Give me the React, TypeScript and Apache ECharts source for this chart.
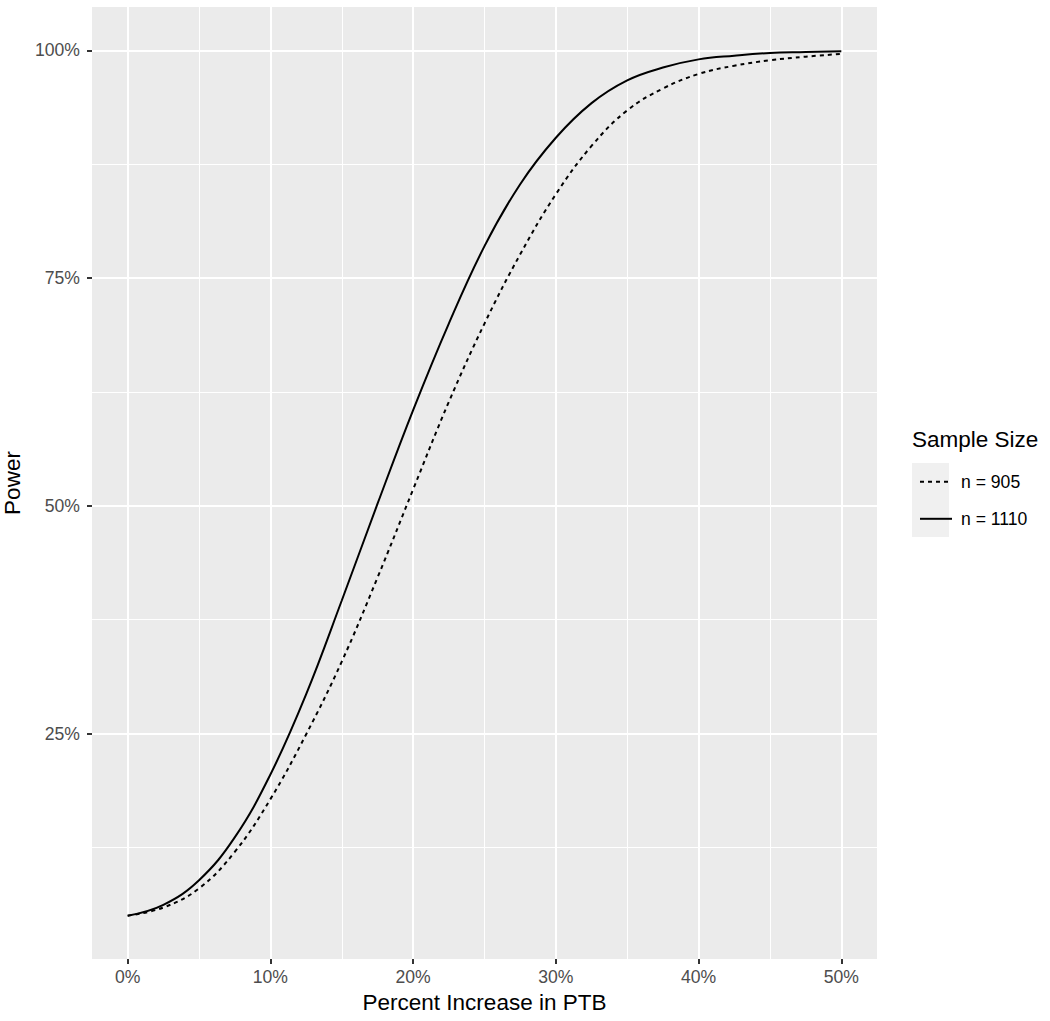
import React, { useEffect, useRef } from "react";
import * as echarts from "echarts";

// Percent increase in PTB (x, in %)
const increase = [0, 2.5, 5, 7.5, 10, 12.5, 15, 17.5, 20, 22.5, 25, 27.5, 30, 32.5, 35, 37.5, 40, 42.5, 45, 47.5, 50];
// Power for n = 905 (dashed)
const power905 = [0.05, 0.059, 0.08, 0.12, 0.178, 0.249, 0.329, 0.421, 0.518, 0.614, 0.7, 0.776, 0.842, 0.895, 0.934, 0.958, 0.974, 0.983, 0.989, 0.993, 0.996];
// Power for n = 1110 (solid)
const power1110 = [0.05, 0.062, 0.089, 0.136, 0.205, 0.293, 0.396, 0.502, 0.605, 0.7, 0.785, 0.853, 0.904, 0.942, 0.967, 0.981, 0.99, 0.994, 0.997, 0.998, 0.999];

const seriesNames = ["n = 905", "n = 1110"];
const legendTitle = "Sample Size";
const xMajor = [0, 10, 20, 30, 40, 50];
const xMinor = [5, 15, 25, 35, 45];
const yMajor = [0.25, 0.5, 0.75, 1.0];
const yMinor = [0.125, 0.375, 0.625, 0.875];

const xMin = -2.5;
const xMax = 52.5;
const yMin = 0.0025;
const yMax = 1.0475;

export default function App() {
  const ref = useRef<HTMLDivElement>(null);
  useEffect(() => {
    document.body.style.margin = "0";
    const chart = echarts.init(ref.current!, null, { renderer: "svg" });
    const font = "'Liberation Sans', Arial, Helvetica, sans-serif";
    const tickColor = "#333333";
    const labelColor = "#4d4d4d";
    const pairs = (vals: number[]) => increase.map((x, i) => [x, vals[i]]);
    const pct = (v: number) => `${Math.round(v * 100)}%`;
    chart.setOption({
      animation: false,
      backgroundColor: "#ffffff",
      textStyle: { fontFamily: font },
      grid: {
        left: 92,
        top: 7,
        width: 785,
        height: 952,
        containLabel: false,
        outerBoundsMode: "none",
        show: true,
        backgroundColor: "#ebebeb",
        borderWidth: 0,
      },
      xAxis: [
        {
          type: "value",
          min: xMin,
          max: xMax,
          position: "bottom",
          axisLine: { show: false, onZero: false },
          axisTick: { show: true, length: 5, lineStyle: { color: tickColor, width: 2 }, customValues: xMajor },
          axisLabel: { show: true, customValues: xMajor, formatter: (v: number) => `${v}%`, color: labelColor, fontSize: 17.6, margin: 9, fontFamily: font },
          splitLine: { show: true, lineStyle: { color: "#ffffff", width: 2 } },
          name: "Percent Increase in PTB",
          nameLocation: "middle",
          nameGap: 31,
          nameTextStyle: { color: "#000000", fontSize: 22.5, fontFamily: font },
        },
        {
          type: "value",
          min: xMin,
          max: xMax,
          position: "top",
          axisLine: { show: false, onZero: false },
          axisTick: { show: false, customValues: xMinor },
          axisLabel: { show: false, customValues: xMinor },
          splitLine: { show: true, lineStyle: { color: "#ffffff", width: 1 } },
        },
      ],
      yAxis: [
        {
          type: "value",
          min: yMin,
          max: yMax,
          position: "left",
          axisLine: { show: false, onZero: false },
          axisTick: { show: true, length: 5, lineStyle: { color: tickColor, width: 2 }, customValues: yMajor },
          axisLabel: { show: true, customValues: yMajor, formatter: pct, color: labelColor, fontSize: 17.6, margin: 12, fontFamily: font },
          splitLine: { show: true, lineStyle: { color: "#ffffff", width: 2 } },
          name: "Power",
          nameLocation: "middle",
          nameGap: 68,
          nameRotate: 90,
          nameTextStyle: { color: "#000000", fontSize: 22.5, fontFamily: font },
        },
        {
          type: "value",
          min: yMin,
          max: yMax,
          position: "right",
          axisLine: { show: false, onZero: false },
          axisTick: { show: false, customValues: yMinor },
          axisLabel: { show: false, customValues: yMinor },
          splitLine: { show: true, lineStyle: { color: "#ffffff", width: 1 } },
        },
      ],
      legend: {
        orient: "vertical",
        left: 914,
        top: 462,
        itemWidth: 32,
        itemHeight: 37,
        itemGap: 7.4,
        data: seriesNames,
        itemStyle: { color: "rgba(0,0,0,0)", borderColor: "rgba(0,0,0,0)", borderWidth: 0, opacity: 0 },
        textStyle: { color: "#000000", fontSize: 17.6, fontFamily: font, padding: [0, 0, 0, 4] },
      },
      graphic: [
        { type: "rect", left: 912, top: 463, shape: { width: 37, height: 74 }, style: { fill: "#f0f0f0" }, z: -1, silent: true },
        { type: "text", left: 912, top: 428, style: { text: legendTitle, fill: "#000000", font: `22.5px ${font}` } },
      ],
      series: [
        {
          name: seriesNames[0],
          type: "line",
          xAxisIndex: 0,
          yAxisIndex: 0,
          data: pairs(power905),
          smooth: 0.4,
          symbol: "none",
          lineStyle: { color: "#000000", width: 2, type: [4, 4] },
          itemStyle: { color: "#000000" },
          z: 3,
        },
        {
          name: seriesNames[1],
          type: "line",
          xAxisIndex: 0,
          yAxisIndex: 0,
          data: pairs(power1110),
          smooth: 0.4,
          symbol: "none",
          lineStyle: { color: "#000000", width: 2, type: "solid" },
          itemStyle: { color: "#000000" },
          z: 3,
        },
      ],
    });
    return () => chart.dispose();
  }, []);
  return <div ref={ref} style={{ width: 1050, height: 1021 }} />;
}
